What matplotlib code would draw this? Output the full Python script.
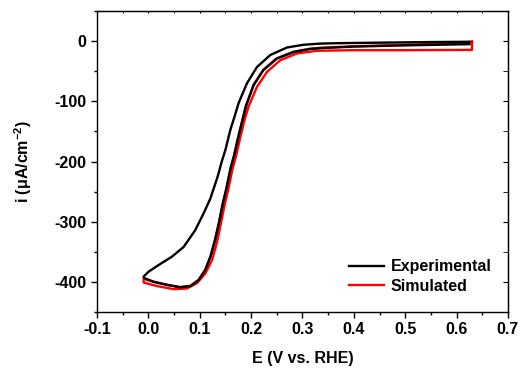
import numpy as np
import matplotlib
matplotlib.use("Agg")
import matplotlib.pyplot as plt
from matplotlib.ticker import MultipleLocator

plt.rcParams['font.family'] = ['Liberation Sans', 'DejaVu Sans']
plt.rcParams['font.weight'] = 'bold'
plt.rcParams['mathtext.fontset'] = 'custom'
plt.rcParams['mathtext.rm'] = 'Liberation Sans:bold'
plt.rcParams['mathtext.bf'] = 'Liberation Sans:bold'
plt.rcParams['mathtext.default'] = 'bf'

# experimental CV, cathodic sweep (0.625 V -> -0.01 V)
exp_fwd_E = [0.625, 0.55, 0.45, 0.38, 0.335, 0.302, 0.270, 0.2374, 0.2115, 0.192,
             0.1757, 0.168, 0.1595, 0.150, 0.143, 0.135, 0.1206, 0.1077, 0.0914,
             0.0687, 0.0461, 0.020, 0.0006, -0.009]
exp_fwd_i = [-1, -1.5, -2.5, -3.2, -4, -6, -10.5, -23, -43, -70,
             -103, -125, -148, -181, -200, -225, -262, -286, -314,
             -342, -358, -372, -383, -391]
# experimental CV, anodic sweep (-0.01 V -> 0.625 V)
exp_rev_E = [-0.009, 0.0103, 0.036, 0.062, 0.082, 0.098, 0.111, 0.121, 0.130, 0.138,
             0.145, 0.152, 0.160, 0.167, 0.175, 0.183, 0.190, 0.205, 0.224, 0.250,
             0.283, 0.315, 0.335, 0.40, 0.50, 0.625]
exp_rev_i = [-393, -400, -405, -409, -407, -397, -380, -358, -330, -300,
             -270, -245, -212, -190, -160, -132, -108, -73, -48, -29,
             -18, -13, -11.6, -9, -7, -5]

# simulated CV, cathodic sweep (lies under the experimental anodic branch)
sim_fwd_E = [0.630, 0.60, 0.50, 0.40, 0.335, 0.315, 0.283, 0.250, 0.224, 0.205,
             0.190, 0.183, 0.175, 0.167, 0.160, 0.152, 0.145, 0.138, 0.130, 0.121,
             0.111, 0.098, 0.082, 0.062, 0.036, 0.0103, -0.009]
sim_fwd_i = [-1, -3, -6, -8.5, -11, -12.5, -17.5, -28.5, -47.5, -72.5,
             -107.5, -131.5, -159.5, -189.5, -211.5, -244.5, -269.5, -299.5, -329.5, -357.5,
             -379.5, -396.5, -406.5, -408.5, -404.5, -399.5, -395]
# simulated CV, anodic sweep
sim_rev_E = [-0.009, 0.017, 0.049, 0.075, 0.095, 0.111, 0.124, 0.134, 0.142, 0.149,
             0.156, 0.164, 0.171, 0.179, 0.187, 0.195, 0.2115, 0.231, 0.257, 0.289,
             0.328, 0.40, 0.50, 0.630, 0.630]
sim_rev_i = [-401, -407, -412, -411, -402, -386, -364, -333, -300, -270,
             -245, -212, -190, -160, -132, -109, -76, -51, -31.6, -20.5,
             -16, -15, -15, -14.5, -1]

fig = plt.figure(figsize=(5.21, 3.69), dpi=100)
ax = fig.add_axes([0.186, 0.1545, 0.789, 0.8155])

ax.plot(sim_fwd_E + sim_rev_E, sim_fwd_i + sim_rev_i, color='#ff0000', lw=1.7,
        label='Simulated', zorder=2, solid_joinstyle='round')
ax.plot(exp_fwd_E + exp_rev_E, exp_fwd_i + exp_rev_i, color='black', lw=1.7,
        label='Experimental', zorder=3, solid_joinstyle='round')

ax.set_xlim(-0.1, 0.7)
ax.set_ylim(-450, 50)
ax.xaxis.set_minor_locator(MultipleLocator(0.05))
ax.yaxis.set_minor_locator(MultipleLocator(50))
ax.set_xticks(np.arange(-0.1, 0.71, 0.1))
ax.set_xticklabels(['-0.1', '0.0', '0.1', '0.2', '0.3', '0.4', '0.5', '0.6', '0.7'])
ax.set_yticks([0, -100, -200, -300, -400])
ax.set_yticklabels(['0', '-100', '-200', '-300', '-400'])

ax.tick_params(which='both', direction='out', top=False, right=False,
               labelsize=11.5, width=1.0)
ax.tick_params(which='major', length=4.5, pad=3)
ax.tick_params(which='minor', length=2.5)
for s in ax.spines.values():
    s.set_linewidth(1.0)

# inward ticks on the top and right spines
ax2 = ax.secondary_xaxis('top')
ax2.xaxis.set_major_locator(MultipleLocator(0.1))
ax2.xaxis.set_minor_locator(MultipleLocator(0.05))
ax2.tick_params(which='both', direction='in', length=1.5, labeltop=False)
ax3 = ax.secondary_yaxis('right')
ax3.yaxis.set_major_locator(MultipleLocator(100))
ax3.yaxis.set_minor_locator(MultipleLocator(50))
ax3.tick_params(which='both', direction='in', length=3.5, labelright=False)

ax.set_xlabel('E (V vs. RHE)', fontsize=11.5, fontweight='bold', labelpad=10)
ax.set_ylabel('i (μA/cm$^{-2}$)', fontsize=11.5, fontweight='bold', labelpad=15)

handles, labels = ax.get_legend_handles_labels()
ax.legend(handles[::-1], labels[::-1], loc='lower right', frameon=False,
          fontsize=11.5, handlelength=2.2, handletextpad=0.4,
          labelspacing=0.3, bbox_to_anchor=(0.995, 0.012))

fig.savefig('out.png', dpi=100)
